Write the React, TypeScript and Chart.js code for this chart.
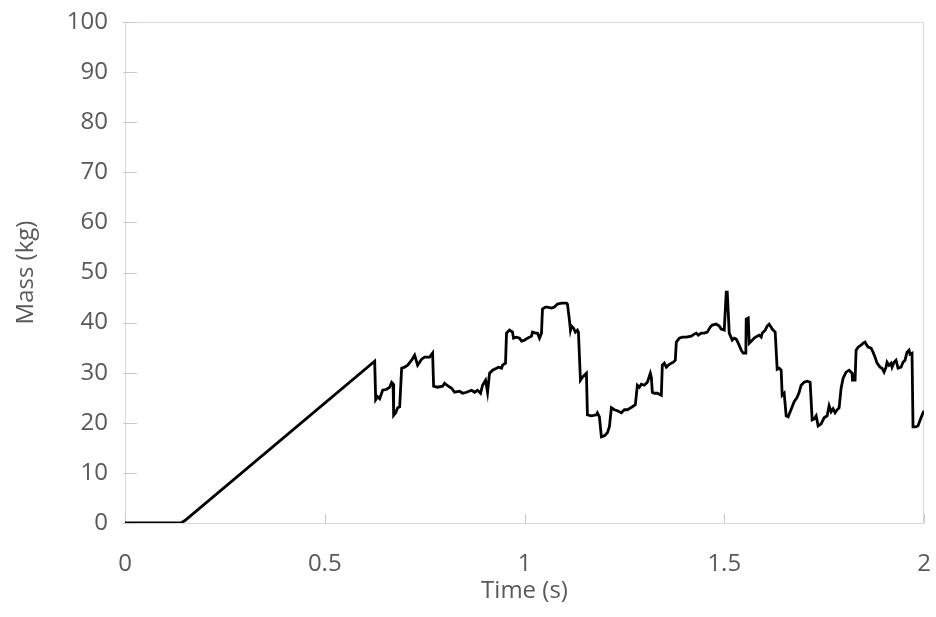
import React, { useEffect, useRef } from "react";
import { Chart, registerables } from "chart.js";

Chart.register(...registerables);

const timeS: number[] = [
  0, 0.14, 0.15, 0.625, 0.6275, 0.6325, 0.6375, 0.645, 0.655, 0.6625, 0.6675, 0.671, 0.6725, 0.6775, 0.6825, 0.6875,
  0.6925, 0.7, 0.7075, 0.7175, 0.725, 0.7325, 0.7425, 0.75, 0.7625, 0.77, 0.7725, 0.7825, 0.795, 0.8, 0.8075, 0.8175,
  0.825, 0.8375, 0.845, 0.855, 0.8675, 0.875, 0.8825, 0.89, 0.895, 0.9025, 0.9075, 0.9125, 0.92, 0.93, 0.935, 0.9425,
  0.945, 0.9525, 0.955, 0.9625, 0.97, 0.9725, 0.98, 0.9875, 0.9925, 1.0, 1.0075, 1.0175, 1.02, 1.0275, 1.0325, 1.0375,
  1.0425, 1.045, 1.0525, 1.0575, 1.0675, 1.075, 1.0825, 1.0925, 1.105, 1.1075, 1.1125, 1.115, 1.1175, 1.1225, 1.1275,
  1.1325, 1.135, 1.14, 1.145, 1.155, 1.1575, 1.1675, 1.18, 1.1825, 1.1875, 1.1925, 1.2, 1.2075, 1.2125, 1.2175, 1.225,
  1.2325, 1.2425, 1.25, 1.2575, 1.27, 1.2775, 1.2825, 1.2875, 1.2925, 1.3, 1.3075, 1.315, 1.3175, 1.32, 1.325, 1.3325,
  1.3425, 1.345, 1.35, 1.355, 1.36, 1.3675, 1.3725, 1.3775, 1.38, 1.3875, 1.395, 1.405, 1.4175, 1.425, 1.43, 1.435,
  1.4425, 1.45, 1.4575, 1.465, 1.47, 1.48, 1.4875, 1.4925, 1.5, 1.505, 1.5075, 1.5125, 1.52, 1.525, 1.53, 1.535, 1.5425,
  1.5475, 1.554, 1.555, 1.56, 1.5625, 1.5675, 1.575, 1.5825, 1.5875, 1.5925, 1.595, 1.6025, 1.6075, 1.6125, 1.6175,
  1.62, 1.6275, 1.6325, 1.6375, 1.6425, 1.645, 1.65, 1.655, 1.66, 1.665, 1.67, 1.675, 1.6825, 1.6875, 1.6925, 1.7,
  1.7075, 1.715, 1.72, 1.725, 1.73, 1.735, 1.7425, 1.75, 1.7575, 1.7625, 1.7675, 1.7725, 1.7775, 1.7825, 1.7875,
  1.7925, 1.7975, 1.805, 1.8125, 1.82, 1.821, 1.8275, 1.83, 1.835, 1.8425, 1.8475, 1.8525, 1.855, 1.86, 1.8675, 1.8725,
  1.8775, 1.8825, 1.89, 1.895, 1.9, 1.905, 1.9075, 1.9125, 1.9175, 1.92, 1.925, 1.93, 1.935, 1.9425, 1.9475, 1.9525,
  1.9575, 1.9625, 1.965, 1.97, 1.9725, 1.98, 1.985, 1.9925, 1.9975, 2.0,
];

const massKg: number[] = [
  0, 0, 0.5, 32.3, 24.6, 25.2, 24.8, 26.5, 26.7, 27.1, 28.1, 27.8, 21.5, 22, 23, 23.2,
  30.9, 31.1, 31.5, 32.5, 33.5, 31.5, 32.7, 33.1, 33.1, 33.9, 27.3, 27.1, 27.3, 27.9, 27.4, 26.9,
  26.1, 26.3, 25.9, 26.1, 26.5, 26.1, 26.5, 25.9, 27.5, 28.5, 26.1, 29.9, 30.5, 30.9, 31.1, 30.9,
  31.5, 31.9, 37.9, 38.5, 38.1, 36.9, 37.1, 36.9, 36.3, 36.5, 36.9, 37.3, 38.1, 37.9, 37.9, 36.9,
  37.9, 42.7, 43.1, 43.1, 42.9, 43.1, 43.7, 43.9, 43.9, 43.7, 40.5, 38.5, 39.3, 38.9, 38.1,
  38.5, 38.1, 28.5, 29.1, 29.9, 21.6, 21.4, 21.6, 22, 21.2, 17.2, 17.4, 18, 19.2, 23, 22.6,
  22.4, 22, 22.6, 22.6, 23.2, 23.6, 27.5, 27.1, 27.7, 27.5, 28.1, 29.9, 29.1, 26.1, 25.9, 25.9,
  25.5, 31.5, 31.9, 31.1, 31.5, 31.9, 32.1, 32.5, 36.1, 36.9, 37.1, 37.1, 37.3, 37.7, 37.9, 37.5,
  37.9, 37.9, 38.1, 39.1, 39.5, 39.7, 39.3, 38.7, 38.5, 46.1, 46.1, 37.9, 36.5, 36.9, 36.7, 35.9, 34.5,
  33.9, 33.9, 40.7, 40.9, 35.9, 36.3, 36.9, 37.3, 37.5, 37.1, 37.9, 38.5, 39.3, 39.7, 39.1,
  38.7, 38.1, 30.7, 30.9, 30.5, 25.5, 25.9, 21.4, 21.2, 22.2, 23.2, 24.2, 25.1, 26.1, 27.5, 28.1,
  28.3, 28.1, 20.6, 20.8, 21.4, 19.4, 19.8, 21, 21.4, 23.4, 22.2, 22.8, 22, 22.6, 23,
  26.9, 28.9, 30.1, 30.5, 29.9, 28.5, 28.5, 34.5, 35.1, 35.5, 35.9, 36.1, 35.7, 35.1, 34.9, 34.1,
  33.1, 31.9, 31.1, 30.9, 30.1, 31.1, 32.1, 31.5, 31.9, 31.1, 32.1, 32.5, 30.9, 31.1, 32.1, 32.5,
  34.1, 34.5, 33.7, 33.9, 19.2, 19.2, 19.4, 21, 22, 22.4,
];

const xTickStep = 0.5;
const yTickStep = 10;
const xTitle = "Time (s)";
const yTitle = "Mass (kg)";

const frameAndTicks = {
  id: "frameAndTicks",
  beforeDatasetsDraw(chart: any) {
    const { ctx, chartArea, scales } = chart;
    const { left, right, top, bottom } = chartArea;
    ctx.save();
    ctx.strokeStyle = "#d9d9d9";
    ctx.lineWidth = 1;
    ctx.strokeRect(left + 0.5, top + 0.5, right - left - 1, bottom - top);
    ctx.strokeStyle = "#c8c8c8";
    ctx.beginPath();
    scales.y.ticks.forEach((t: any) => {
      const y = Math.round(scales.y.getPixelForValue(t.value)) + 0.5;
      ctx.moveTo(left - 2, y);
      ctx.lineTo(left + 12, y);
    });
    scales.x.ticks.forEach((t: any) => {
      const x = Math.round(scales.x.getPixelForValue(t.value)) + 0.5;
      ctx.moveTo(x, bottom);
      ctx.lineTo(x, bottom - 9);
    });
    ctx.stroke();
    ctx.restore();
  },
};

export default function App() {
  const ref = useRef<HTMLCanvasElement | null>(null);
  useEffect(() => {
    document.body.style.margin = "0";
    const canvas = ref.current;
    if (!canvas) return;
    const points = timeS.map((t, i) => ({ x: t, y: massKg[i] }));
    const font = { family: "'Open Sans', 'DejaVu Sans', sans-serif", size: 24 };
    const chart = new Chart(canvas, {
      type: "line",
      data: {
        datasets: [
          {
            data: points,
            borderColor: "#000000",
            borderWidth: 2.8,
            pointRadius: 0,
            tension: 0,
            fill: false,
          },
        ],
      },
      options: {
        responsive: false,
        animation: false,
        layout: { padding: { top: 22, right: 12, left: 0, bottom: 0 } },
        plugins: { legend: { display: false }, tooltip: { enabled: false } },
        scales: {
          x: {
            type: "linear",
            min: 0,
            max: 2,
            grid: { display: false, drawTicks: false },
            border: { display: false },
            ticks: {
              stepSize: xTickStep,
              color: "#595959",
              font,
              padding: 27,
              maxRotation: 0,
              callback: (v: any) => String(Number(v)),
            },
            title: { display: true, text: xTitle, color: "#595959", font, padding: { top: 0, bottom: 11 } },
            afterFit: (s: any) => {
              s.height = 94;
              s.paddingRight = 0;
              s.paddingLeft = 0;
            },
          },
          y: {
            type: "linear",
            min: 0,
            max: 100,
            grid: { display: false, drawTicks: false },
            border: { display: false },
            ticks: { stepSize: yTickStep, color: "#595959", font, padding: 17, callback: (v: any) => String(Number(v)) },
            title: { display: true, text: yTitle, color: "#595959", font, padding: { top: 12, bottom: 0 } },
            afterFit: (s: any) => {
              s.width = 125;
              s.paddingTop = 0;
              s.paddingBottom = 0;
            },
          },
        },
      },
      plugins: [frameAndTicks],
    });
    return () => chart.destroy();
  }, []);
  return (
    <div style={{ position: "fixed", left: 0, top: 0, width: 936, height: 617, background: "#fff" }}>
      <canvas ref={ref} width={936} height={617} />
    </div>
  );
}
